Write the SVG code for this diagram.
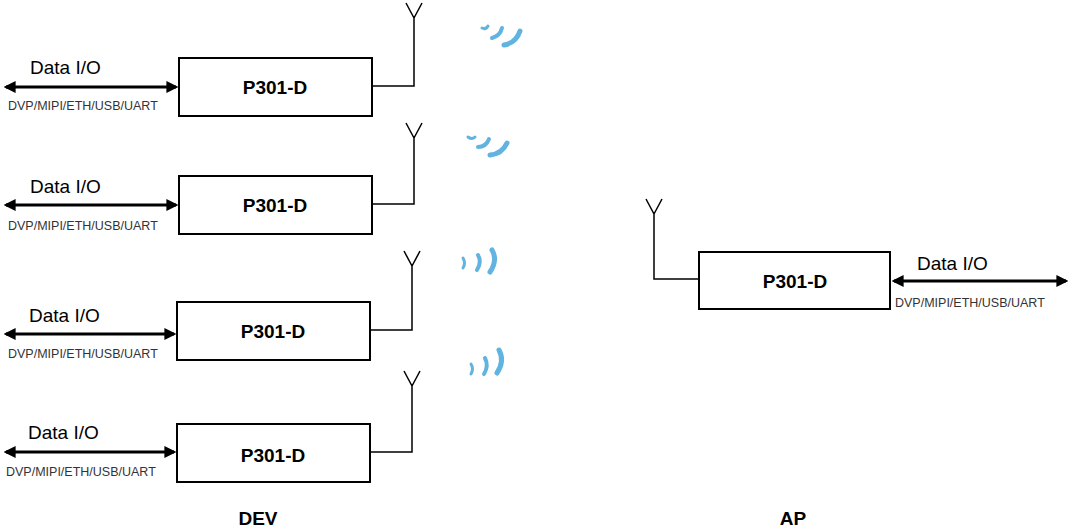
<svg xmlns="http://www.w3.org/2000/svg" width="1071" height="528" viewBox="0 0 1071 528">
<style>
.box{fill:#fff;stroke:#000;stroke-width:2}
.ln{fill:none;stroke:#000;stroke-width:1.5}
.arr{stroke:#000;stroke-width:3;marker-start:url(#ah);marker-end:url(#ah)}
.t{font-family:"Liberation Sans",Arial,sans-serif;font-weight:bold;font-size:19px;text-anchor:middle}
.d{font-family:"Liberation Sans",Arial,sans-serif;font-size:19px}
.s{font-family:"Liberation Sans",Arial,sans-serif;font-size:12.5px;fill:#333}
.w{fill:none;stroke:#3aa0d8;stroke-linecap:round;opacity:.8}
</style>
<defs>
<marker id="ah" viewBox="0 0 10 10" refX="8" refY="5" markerWidth="4" markerHeight="4" orient="auto-start-reverse"><path d="M0,0L10,5L0,10z"/></marker>
</defs>
<g id="connectors">
<line class="arr" x1="6" y1="87" x2="176" y2="87"/>
<line class="arr" x1="6" y1="205" x2="176" y2="205"/>
<line class="arr" x1="6" y1="334" x2="174" y2="334"/>
<line class="arr" x1="6" y1="452" x2="174" y2="452"/>
<line class="arr" x1="894" y1="281" x2="1066" y2="281"/>
<path class="ln" d="M372,86H414V16M406,3L414,18L422,3"/>
<path class="ln" d="M372,204H414V136M406,123L414,138L422,123"/>
<path class="ln" d="M370,330H412V264M404,251L412,266L420,251"/>
<path class="ln" d="M370,452H412V384M404,371L412,386L420,371"/>
<path class="ln" d="M699,279H654V212M646,199L654,214L662,199"/>
</g>
<g id="waves">
<path class="w" stroke-width="3" d="M482,28q4,2 6,-2"/><path class="w" stroke-width="4" d="M492,38q8,-2 10,-10"/><path class="w" stroke-width="5" d="M504,45q12,-2 16,-14"/>
<path class="w" stroke-width="3" d="M468,137q4,3 7,0"/><path class="w" stroke-width="4" d="M478,147q8,0 11,-8"/><path class="w" stroke-width="5" d="M490,155q12,-1 17,-12"/>
<path class="w" stroke-width="3" d="M463,258q3,5 0,10"/><path class="w" stroke-width="4" d="M478,255q4,7 -1,15"/><path class="w" stroke-width="5" d="M492,250q6,10 -2,22"/>
<path class="w" stroke-width="3" d="M471,364q3,5 0,10"/><path class="w" stroke-width="4" d="M485,358q4,8 -1,16"/><path class="w" stroke-width="5" d="M499,350q6,11 -2,23"/>
</g>
<g id="n1"><rect class="box" x="179" y="58" width="193" height="58"/><text class="t" x="275" y="94">P301-D</text><text class="d" x="30" y="74">Data I/O</text><text class="s" x="8" y="110">DVP/MIPI/ETH/USB/UART</text></g>
<g id="n2"><rect class="box" x="179" y="176" width="193" height="58"/><text class="t" x="275" y="212">P301-D</text><text class="d" x="30" y="193">Data I/O</text><text class="s" x="8" y="230">DVP/MIPI/ETH/USB/UART</text></g>
<g id="n3"><rect class="box" x="177" y="302" width="193" height="58"/><text class="t" x="273" y="338">P301-D</text><text class="d" x="29" y="322">Data I/O</text><text class="s" x="8" y="358">DVP/MIPI/ETH/USB/UART</text></g>
<g id="n4"><rect class="box" x="177" y="424" width="193" height="58"/><text class="t" x="273" y="462">P301-D</text><text class="d" x="28" y="439">Data I/O</text><text class="s" x="6" y="476">DVP/MIPI/ETH/USB/UART</text></g>
<g id="ap"><rect class="box" x="699" y="252" width="191" height="57"/><text class="t" x="795" y="288">P301-D</text><text class="d" x="917" y="270">Data I/O</text><text class="s" x="895" y="307">DVP/MIPI/ETH/USB/UART</text></g>
<text class="t" x="258" y="525">DEV</text>
<text class="t" x="793" y="525">AP</text>
</svg>
